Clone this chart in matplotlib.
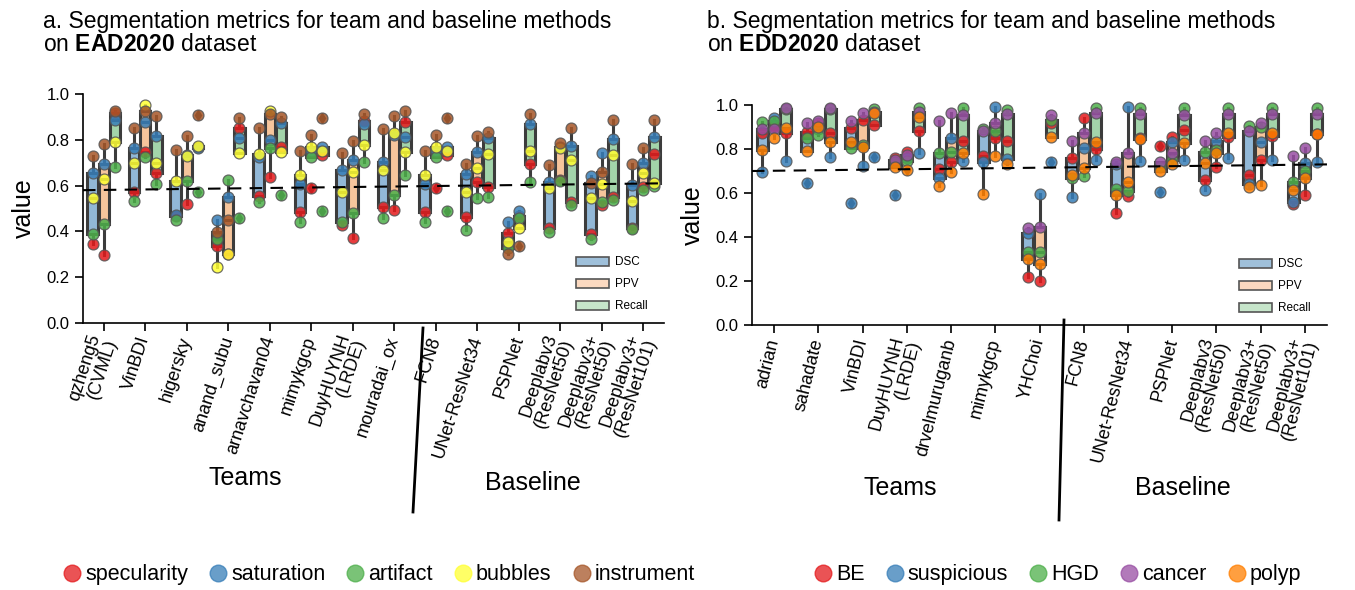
import numpy as np
import matplotlib
matplotlib.use("Agg")
import matplotlib.pyplot as plt
from matplotlib.lines import Line2D
from matplotlib.patches import Patch

plt.rcParams['font.family'] = ['Liberation Sans', 'DejaVu Sans']
plt.rcParams['mathtext.fontset'] = 'custom'
plt.rcParams['mathtext.rm'] = 'Liberation Sans'
plt.rcParams['mathtext.bf'] = 'Liberation Sans:bold'

# ── EAD2020 (panel a) ────────────────────────────────────────────────────────
EAD_METHODS = ["qzheng5\n(CVML)", "VinBDI", "higersky", "anand_subu", "arnavchavan04",
               "mimykgcp", "DuyHUYNH\n(LRDE)", "mouradai_ox", "FCN8", "UNet-ResNet34",
               "PSPNet", "Deeplabv3\n(ResNet50)", "Deeplabv3+\n(ResNet50)",
               "Deeplabv3+\n(ResNet101)"]
EAD_CLASSES = ["specularity", "saturation", "artifact", "bubbles", "instrument"]
EAD_COLORS = ["#e41a1c", "#377eb8", "#4daf4a", "#ffff33", "#a65628"]

# rows: methods, cols: classes
EAD_DSC = [
    [0.343, 0.654, 0.389, 0.547, 0.730],
    [0.571, 0.766, 0.534, 0.700, 0.850],
    [0.467, 0.470, 0.450, 0.620, 0.755],
    [0.336, 0.450, 0.367, 0.246, 0.399],
    [0.555, 0.726, 0.530, 0.738, 0.853],
    [0.486, 0.606, 0.440, 0.646, 0.751],
    [0.428, 0.668, 0.443, 0.573, 0.741],
    [0.508, 0.705, 0.457, 0.668, 0.846],
    [0.486, 0.606, 0.443, 0.646, 0.751],
    [0.464, 0.649, 0.406, 0.573, 0.693],
    [0.392, 0.442, 0.326, 0.355, 0.300],
    [0.413, 0.614, 0.396, 0.588, 0.690],
    [0.389, 0.643, 0.367, 0.544, 0.610],
    [0.413, 0.603, 0.410, 0.533, 0.694],
]
EAD_PPV = [
    [0.297, 0.693, 0.434, 0.627, 0.780],
    [0.748, 0.879, 0.726, 0.952, 0.926],
    [0.520, 0.734, 0.620, 0.730, 0.817],
    [0.300, 0.549, 0.624, 0.300, 0.450],
    [0.639, 0.800, 0.766, 0.926, 0.911],
    [0.588, 0.750, 0.726, 0.770, 0.821],
    [0.373, 0.712, 0.479, 0.658, 0.795],
    [0.493, 0.820, 0.559, 0.831, 0.905],
    [0.588, 0.750, 0.726, 0.770, 0.821],
    [0.617, 0.748, 0.544, 0.675, 0.818],
    [0.467, 0.489, 0.460, 0.416, 0.338],
    [0.624, 0.770, 0.620, 0.763, 0.785],
    [0.515, 0.741, 0.530, 0.607, 0.658],
    [0.595, 0.697, 0.581, 0.654, 0.766],
]
EAD_RECALL = [
    [0.915, 0.886, 0.683, 0.790, 0.925],
    [0.654, 0.818, 0.607, 0.700, 0.905],
    [0.770, 0.765, 0.571, 0.775, 0.908],
    [0.850, 0.806, 0.460, 0.741, 0.894],
    [0.770, 0.872, 0.559, 0.748, 0.900],
    [0.734, 0.770, 0.489, 0.751, 0.894],
    [0.880, 0.868, 0.705, 0.777, 0.913],
    [0.876, 0.814, 0.646, 0.748, 0.927],
    [0.734, 0.770, 0.489, 0.751, 0.894],
    [0.595, 0.806, 0.552, 0.737, 0.835],
    [0.693, 0.868, 0.614, 0.751, 0.911],
    [0.527, 0.774, 0.515, 0.712, 0.853],
    [0.552, 0.802, 0.537, 0.734, 0.886],
    [0.737, 0.814, 0.600, 0.610, 0.886],
]
EAD_REF = [0.58, 0.61]     # dashed reference line, left/right end

# ── EDD2020 (panel b) ────────────────────────────────────────────────────────
EDD_METHODS = ["adrian", "sahadate", "VinBDI", "DuyHUYNH\n(LRDE)", "drvelmuruganb",
               "mimykgcp", "YHChoi", "FCN8", "UNet-ResNet34", "PSPNet",
               "Deeplabv3\n(ResNet50)", "Deeplabv3+\n(ResNet50)", "Deeplabv3+\n(ResNet101)"]
EDD_CLASSES = ["BE", "suspicious", "HGD", "cancer", "polyp"]
EDD_COLORS = ["#e41a1c", "#377eb8", "#4daf4a", "#984ea3", "#ff7f00"]

EDD_DSC = [
    [0.871, 0.695, 0.921, 0.889, 0.795],
    [0.879, 0.644, 0.848, 0.917, 0.792],
    [0.894, 0.553, 0.803, 0.929, 0.833],
    [0.758, 0.591, 0.742, 0.750, 0.717],
    [0.710, 0.670, 0.780, 0.929, 0.630],
    [0.770, 0.742, 0.890, 0.883, 0.595],
    [0.220, 0.420, 0.330, 0.440, 0.300],
    [0.760, 0.580, 0.670, 0.836, 0.680],
    [0.510, 0.730, 0.620, 0.742, 0.590],
    [0.814, 0.604, 0.720, 0.742, 0.700],
    [0.659, 0.614, 0.788, 0.838, 0.735],
    [0.682, 0.640, 0.905, 0.883, 0.626],
    [0.550, 0.560, 0.652, 0.768, 0.614],
]
EDD_PPV = [
    [0.900, 0.939, 0.929, 0.889, 0.852],
    [0.917, 0.890, 0.864, 0.929, 0.902],
    [0.932, 0.723, 0.818, 0.965, 0.808],
    [0.788, 0.760, 0.747, 0.773, 0.705],
    [0.742, 0.848, 0.788, 0.965, 0.697],
    [0.848, 0.990, 0.880, 0.920, 0.770],
    [0.198, 0.595, 0.333, 0.447, 0.277],
    [0.939, 0.803, 0.677, 0.874, 0.712],
    [0.586, 0.990, 0.611, 0.780, 0.652],
    [0.856, 0.830, 0.750, 0.780, 0.732],
    [0.720, 0.838, 0.795, 0.874, 0.780],
    [0.750, 0.830, 0.900, 0.920, 0.636],
    [0.591, 0.738, 0.700, 0.803, 0.667],
]
EDD_RECALL = [
    [0.874, 0.747, 0.980, 0.988, 0.894],
    [0.874, 0.765, 0.980, 0.985, 0.833],
    [0.909, 0.765, 0.980, 0.970, 0.962],
    [0.883, 0.780, 0.985, 0.970, 0.944],
    [0.838, 0.747, 0.985, 0.955, 0.783],
    [0.838, 0.755, 0.977, 0.958, 0.732],
    [0.917, 0.742, 0.930, 0.955, 0.856],
    [0.800, 0.750, 0.985, 0.962, 0.833],
    [0.850, 0.747, 0.985, 0.959, 0.844],
    [0.886, 0.750, 0.985, 0.955, 0.826],
    [0.856, 0.758, 0.985, 0.959, 0.874],
    [0.860, 0.750, 0.985, 0.959, 0.874],
    [0.870, 0.740, 0.985, 0.959, 0.868],
]
EDD_REF = [0.70, 0.73]

METRICS = ["DSC", "PPV", "Recall"]
BOX_COLORS = ["#92b8d7", "#f6c59c", "#a3d4aa"]
LEG_COLORS = ["#9fc0da", "#fbd9c0", "#c6e5ca"]
OFFSETS = [-0.267, 0.0, 0.267]
EDGE = "#3c3c3c"


def draw_panel(ax, methods, colors, metric_data, ref, rot):
    n = len(methods)
    for k, data in enumerate(metric_data):
        arr = np.array(data)
        pos = np.arange(n) + OFFSETS[k]
        ax.boxplot(arr.T, positions=pos, widths=0.25, patch_artist=True,
                   showcaps=False, whis=1.5, manage_ticks=False,
                   boxprops=dict(facecolor=BOX_COLORS[k], edgecolor=EDGE, linewidth=2.2),
                   whiskerprops=dict(color=EDGE, linewidth=2.2),
                   medianprops=dict(color=EDGE, linewidth=2.2),
                   flierprops=dict(marker='d', markerfacecolor=EDGE, markeredgecolor=EDGE,
                                   markersize=5))
        for c, col in enumerate(colors):
            ax.scatter(pos, arr[:, c], s=62, color=col, alpha=0.85,
                       edgecolor='#555555', linewidth=0.9, zorder=4, clip_on=False)

    ax.plot([-0.5, n - 0.5], ref, ls=(0, (6, 4)), color='black', lw=1.5, zorder=5)
    ax.set_xlim(-0.5, n - 0.5)
    ax.set_ylim(0, 1.0)
    ax.set_yticks([0, 0.2, 0.4, 0.6, 0.8, 1.0])
    ax.set_yticklabels(["0.0", "0.2", "0.4", "0.6", "0.8", "1.0"], fontsize=12)
    ax.set_xticks(range(n))
    ax.set_xticklabels(methods, rotation=rot, ha='right', va='center',
                       rotation_mode='anchor', fontsize=13, linespacing=0.95)
    ax.tick_params(axis='both', direction='out', length=6, width=1.2)
    ax.tick_params(axis='x', pad=4)
    ax.set_ylabel("value", fontsize=18, labelpad=8)
    for s in ["top", "right"]:
        ax.spines[s].set_visible(False)
    for s in ["left", "bottom"]:
        ax.spines[s].set_linewidth(1.2)

    handles = [Patch(facecolor=LEG_COLORS[k], edgecolor='#555555', linewidth=1.2,
                     label=METRICS[k]) for k in range(3)]
    ax.legend(handles=handles, loc='lower right', bbox_to_anchor=(0.99, 0.0),
              frameon=False, fontsize=8.5, handlelength=2.8, handleheight=0.8,
              labelspacing=0.85, handletextpad=0.5)


fig = plt.figure(figsize=(13.55, 5.9), dpi=100)
ax1 = fig.add_axes([83 / 1355, 1 - 323 / 590, 581 / 1355, 229 / 590])
ax2 = fig.add_axes([752 / 1355, 1 - 325 / 590, 575 / 1355, 220 / 590])

draw_panel(ax1, EAD_METHODS, EAD_COLORS, [EAD_DSC, EAD_PPV, EAD_RECALL], EAD_REF, 72)
draw_panel(ax2, EDD_METHODS, EDD_COLORS, [EDD_DSC, EDD_PPV, EDD_RECALL], EDD_REF, 76)

fig.text(43 / 1355, 1 - 10 / 590,
         "a. Segmentation metrics for team and baseline methods\non $\\mathbf{EAD2020}$ dataset",
         ha='left', va='top', fontsize=16.5, linespacing=1.0)
fig.text(707 / 1355, 1 - 10 / 590,
         "b. Segmentation metrics for team and baseline methods\non $\\mathbf{EDD2020}$ dataset",
         ha='left', va='top', fontsize=16.5, linespacing=1.0)

# group labels and divider lines
fig.text(245 / 1355, 1 - 478 / 590, "Teams", ha='center', va='center', fontsize=18)
fig.text(533 / 1355, 1 - 483 / 590, "Baseline", ha='center', va='center', fontsize=18)
fig.text(900 / 1355, 1 - 488 / 590, "Teams", ha='center', va='center', fontsize=18)
fig.text(1183 / 1355, 1 - 488 / 590, "Baseline", ha='center', va='center', fontsize=18)
fig.add_artist(Line2D([423 / 1355, 413 / 1355], [1 - 328 / 590, 1 - 512 / 590],
                      color='black', lw=2))
fig.add_artist(Line2D([1064 / 1355, 1059 / 1355], [1 - 320 / 590, 1 - 520 / 590],
                      color='black', lw=2))

# class legends at the bottom
for classes, colors, xc in [(EAD_CLASSES, EAD_COLORS, 0.279), (EDD_CLASSES, EDD_COLORS, 0.78)]:
    hs = [Line2D([], [], marker='o', ls='', markersize=12, markerfacecolor=c,
                 markeredgecolor=c, alpha=0.75, label=l) for l, c in zip(classes, colors)]
    fig.legend(handles=hs, loc='center', bbox_to_anchor=(xc, 0.026), ncol=5,
               frameon=False, fontsize=15.5, handletextpad=0.1, columnspacing=0.9,
               handlelength=1.0)

fig.savefig("out.png", dpi=100)
